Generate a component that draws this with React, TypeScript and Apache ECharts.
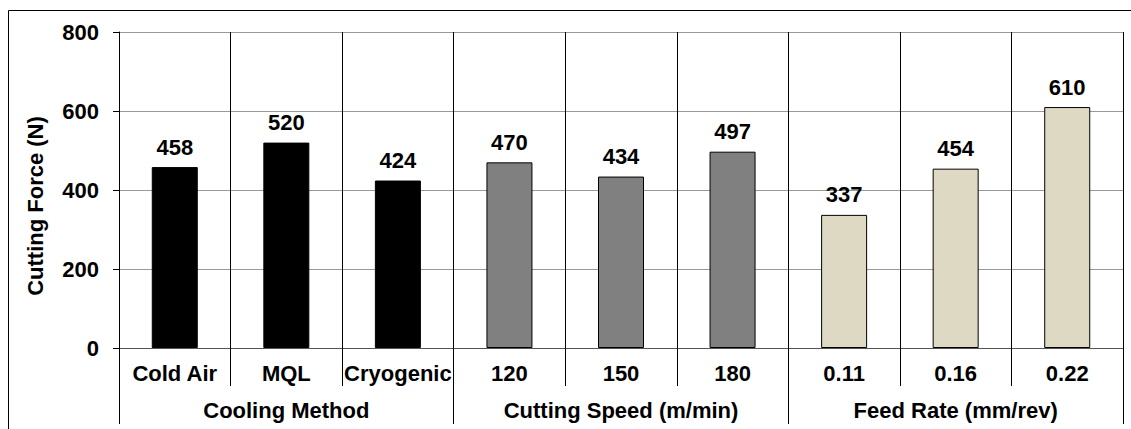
import React, { useEffect, useRef } from "react";
import * as echarts from "echarts";

const categories = ["Cold Air", "MQL", "Cryogenic", "120", "150", "180", "0.11", "0.16", "0.22"];
const forceValues = [458, 520, 424, 470, 434, 497, 337, 454, 610];
const groupNames = ["Cooling Method", "Cutting Speed (m/min)", "Feed Rate (mm/rev)"];
const groupOfCategory = [0, 0, 0, 1, 1, 1, 2, 2, 2];
const groupColors = ["#000000", "#808080", "#DDD9C3"];
const yTicks = [0, 200, 400, 600, 800];
const yAxisTitle = "Cutting Force (N)";

const FONT = "'Liberation Sans', Arial, sans-serif";

export default function App() {
  const ref = useRef<HTMLDivElement>(null);
  useEffect(() => {
    if (!ref.current) return;
    const chart = echarts.init(ref.current, null, { renderer: "svg" });
    const textBase = { fontFamily: FONT, fontWeight: "bold" as const, fontSize: 22, color: "#000" };
    chart.setOption({
      animation: false,
      backgroundColor: "#fff",
      grid: { left: 119, right: 8, top: 32, bottom: 81, containLabel: false },
      graphic: [
        {
          type: "rect",
          shape: { x: 8.5, y: 10.5, width: 1200, height: 500 },
          style: { fill: "none", stroke: "#000", lineWidth: 1 },
          silent: true,
          z: 0,
        },
        {
          type: "text",
          x: 35,
          y: 206,
          rotation: Math.PI / 2,
          style: {
            text: yAxisTitle,
            font: `bold 22px ${FONT}`,
            fill: "#000",
            textAlign: "center",
            textVerticalAlign: "middle",
          },
        },
      ],
      xAxis: [
        {
          type: "category",
          data: categories,
          position: "bottom",
          axisLine: { show: true, lineStyle: { color: "#555", width: 1 } },
          axisTick: { show: true, length: 38, lineStyle: { color: "#000", width: 1 } },
          axisLabel: { ...textBase, margin: 14, interval: 0 },
          splitLine: { show: true, lineStyle: { color: "#000", width: 1 } },
        },
        {
          type: "category",
          data: groupNames,
          position: "bottom",
          offset: 0,
          axisLine: { show: false },
          axisTick: { show: true, length: 76, lineStyle: { color: "#000", width: 1 } },
          axisLabel: { ...textBase, margin: 51, interval: 0 },
          splitLine: { show: false },
        },
      ],
      yAxis: {
        type: "value",
        min: yTicks[0],
        max: yTicks[yTicks.length - 1],
        interval: 200,
        axisLine: { show: true, lineStyle: { color: "#000", width: 1 } },
        axisTick: { show: true, length: 6, lineStyle: { color: "#000" } },
        axisLabel: { ...textBase, margin: 20 },
        splitLine: { show: true, lineStyle: { color: "#999", width: 1 } },
      },
      series: [
        {
          type: "bar",
          xAxisIndex: 0,
          barWidth: 46,
          data: forceValues.map((v, i) => ({
            value: v,
            itemStyle: { color: groupColors[groupOfCategory[i]], borderColor: "#000", borderWidth: 1 },
          })),
          label: { show: true, position: "top", distance: 9, ...textBase },
        },
      ],
    });
    return () => chart.dispose();
  }, []);
  return (
    <div
      ref={ref}
      style={{ position: "fixed", left: 0, top: 0, width: 1131, height: 429 }}
    />
  );
}
